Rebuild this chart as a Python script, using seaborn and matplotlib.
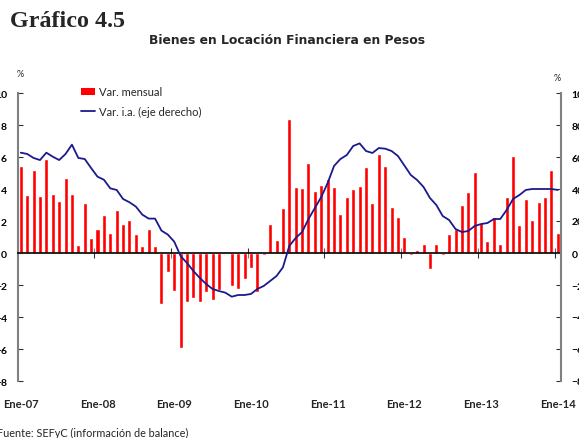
import numpy as np
import pandas as pd
import matplotlib
matplotlib.use("Agg")
import matplotlib.pyplot as plt
from matplotlib.patches import Patch
from matplotlib.lines import Line2D
import seaborn as sns

meses = ["Ene", "Feb", "Mar", "Abr", "May", "Jun", "Jul", "Ago", "Sep", "Oct", "Nov", "Dic"]
periodos = [f"{m}-{a:02d}" for a in range(7, 14) for m in meses] + ["Ene-14"]

var_mensual = [
    5.46, 3.63, 5.19, 3.56, 5.88, 3.69, 3.25, 4.69, 3.69, 0.50, 3.13, 0.94,
    1.50, 2.38, 1.25, 2.69, 1.81, 2.06, 1.19, 0.44, 1.50, 0.44, -3.17, -1.17,
    -2.35, -5.92, -3.04, -2.79, -3.04, -2.42, -2.92, -2.29, 0.06, -2.04, -2.23, -1.60,
    -0.92, -2.42, -0.10, 1.81, 0.81, 2.81, 8.38, 4.13, 4.06, 5.63, 3.88, 4.25,
    4.63, 4.13, 2.44, 3.50, 4.00, 4.19, 5.38, 3.13, 6.19, 5.44, 2.88, 2.25,
    1.00, -0.10, 0.19, 0.56, -0.98, 0.56, -0.10, 1.19, 1.50, 3.00, 3.81, 5.06,
    1.88, 0.75, 2.25, 0.56, 3.50, 6.06, 1.75, 3.38, 2.06, 3.19, 3.50, 5.19,
    1.25,
]

var_ia = [
    62.7, 61.9, 59.4, 58.1, 62.7, 60.2, 58.1, 61.9, 67.7, 59.4, 58.75, 53.1,
    47.7, 45.8, 40.4, 39.4, 33.75, 31.7, 29.0, 24.0, 21.5, 21.5, 14.0, 11.5,
    7.1, -1.9, -6.25, -11.25, -15.6, -19.4, -22.5, -23.75, -24.8, -27.3, -26.25, -26.25,
    -25.6, -22.5, -20.6, -17.5, -14.4, -9.0, 4.4, 9.4, 13.1, 21.25, 28.1, 35.0,
    43.75, 54.4, 58.75, 61.25, 66.9, 68.5, 63.75, 62.5, 65.6, 65.2, 63.75, 60.6,
    54.7, 48.75, 45.6, 41.25, 34.4, 30.0, 23.1, 20.6, 15.0, 13.1, 13.75, 16.9,
    18.1, 18.75, 21.25, 21.25, 26.9, 33.75, 36.25, 39.4, 40.0, 40.0, 40.0, 40.0,
    39.4,
]

etiquetas_x = ["Ene-07", "Ene-08", "Ene-09", "Ene-10", "Ene-11", "Ene-12", "Ene-13", "Ene-14"]

titulo = "Gráfico 4.5"
subtitulo = "Bienes en Locación Financiera en Pesos"
fuente = "Fuente: SEFyC (información de balance)"
leyenda = ["Var. mensual", "Var. i.a. (eje derecho)"]

ROJO = "#FF0000"
AZUL = "#1A1A8C"
GRIS = "#808080"

sns.set_theme(style="white")
plt.rcParams["font.family"] = ["Lato", "DejaVu Sans"]

df = pd.DataFrame({"periodo": periodos, "mensual": var_mensual, "ia": var_ia})
pos = np.arange(len(periodos))

fig = plt.figure(figsize=(5.79, 4.39), dpi=100)
W, H = 579, 439
x0, x1, ytop, ybot = 17.6, 561.0, 94.0, 382.0
ax = fig.add_axes([x0 / W, 1 - ybot / H, (x1 - x0) / W, (ybot - ytop) / H])

sns.barplot(data=df, x="periodo", y="mensual", color=ROJO, saturation=1,
            width=0.63, ax=ax, zorder=2)
ax.set_xlim(-0.5, len(periodos) - 0.5)
ax.set_ylim(-8, 10)
ax.set_yticks(range(-8, 11, 2))
ax.set_xlabel("")
ax.set_ylabel("")

ax2 = ax.twinx()
sns.lineplot(x=pos, y=df["ia"].values, color=AZUL, lw=1.3, ax=ax2, legend=False)
ax2.set_ylim(-80, 100)
ax2.set_yticks(range(-80, 101, 20))
ax2.set_ylabel("")

# spines
for s in ["top", "right"]:
    ax.spines[s].set_visible(False)
ax.spines["left"].set_color(GRIS)
ax.spines["left"].set_linewidth(1.5)
ax.spines["bottom"].set_position(("data", 0))
ax.spines["bottom"].set_color("black")
ax.spines["bottom"].set_linewidth(1.2)
ax.spines["bottom"].set_zorder(3)
for s in ["top", "left", "bottom"]:
    ax2.spines[s].set_visible(False)
ax2.spines["right"].set_color(GRIS)
ax2.spines["right"].set_linewidth(1.5)

# y ticks
ax.tick_params(axis="y", left=True, direction="in", length=3.5, width=0.8,
               color="#333333", pad=7.6, labelsize=7.5, labelcolor="black")
for t in ax.get_yticklabels():
    t.set_fontweight("bold")
ax2.tick_params(axis="y", right=True, direction="in", length=3.5, width=0.8,
                color="#333333", pad=7.7, labelsize=7.5, labelcolor="black")
for t in ax2.get_yticklabels():
    t.set_fontweight("bold")

# x ticks: year boundaries on the zero line
ax.set_xticks([])
limites = [p - 0.5 for p, lab in zip(pos, periodos) if lab.startswith("Ene") and p > 0]
ax.set_xticks(limites, minor=True)
ax.tick_params(axis="x", which="minor", bottom=True, direction="inout", length=7,
               width=0.8, color="#333333")

sec = ax.secondary_xaxis(0.0)
jan_pos = [p for p, lab in zip(pos, periodos) if lab in etiquetas_x]
sec.set_xticks(jan_pos, labels=etiquetas_x, fontweight="bold", fontsize=8)
sec.tick_params(length=0, pad=12.3)
sec.spines["bottom"].set_visible(False)

# legend
handles = [Patch(facecolor=ROJO, edgecolor="none"), Line2D([], [], color=AZUL, lw=1.3)]
fig.legend(handles, leyenda, loc="upper left",
           bbox_to_anchor=(80.7 / W, 1 - 87.5 / H), bbox_transform=fig.transFigure,
           frameon=False, fontsize=8, handlelength=1.26, handleheight=0.6,
           handletextpad=0.35, labelspacing=0.78, borderpad=0, borderaxespad=0)

# texts
fig.text(10 / W, 1 - 27 / H, titulo, family="Liberation Serif", fontweight="bold",
         fontsize=17.3, va="baseline", ha="left")
sub = fig.text(287.5 / W, 1 - 41 / H, subtitulo, family=["DejaVu Sans"], fontweight="bold",
               fontsize=8.5, va="center", ha="center")
fig.text(20 / W, 1 - 75 / H, "%", fontsize=6.5, va="center", ha="center")
fig.text(557 / W, 1 - 79 / H, "%", fontsize=6.5, va="center", ha="center")
foot = fig.text(-3 / W, 1 - 433 / H, fuente, fontsize=7.8, va="center", ha="left")

# fit subtitle width to ~276 px
r = fig.canvas.get_renderer()
w = sub.get_window_extent(r).width
sub.set_fontsize(8.5 * 276.0 / w)

fig.savefig("out.png", dpi=100)
